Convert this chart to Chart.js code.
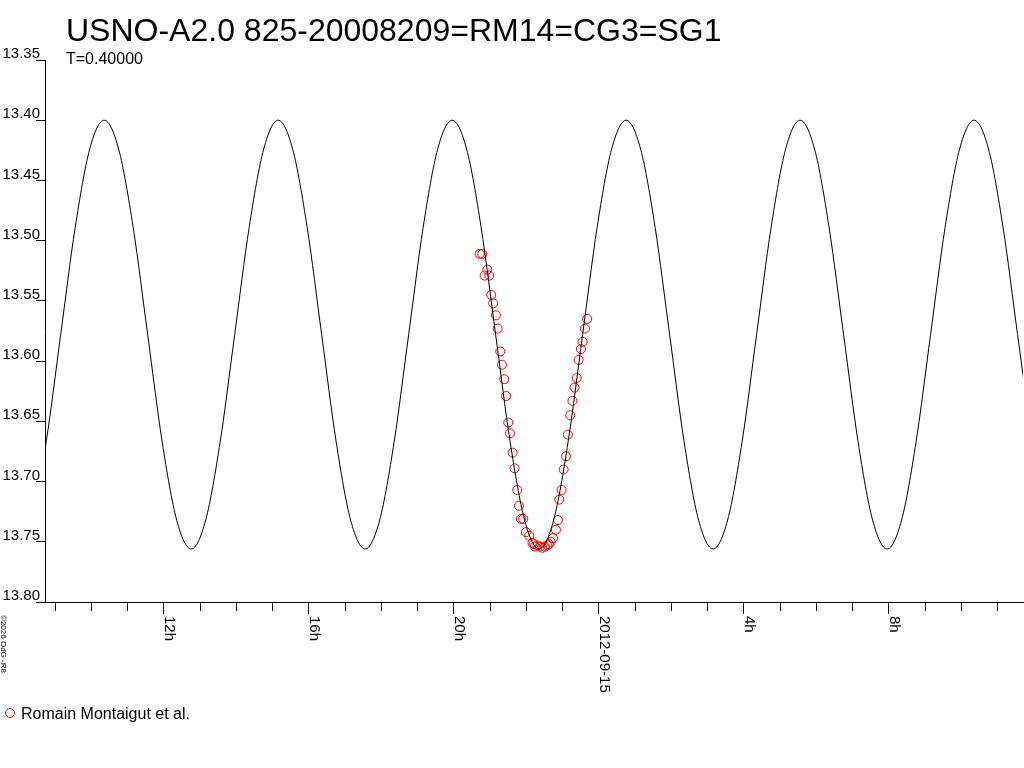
<!DOCTYPE html>
<html>
<head>
<meta charset="utf-8">
<title>USNO-A2.0 825-20008209 light curve</title>
<script src="https://cdn.jsdelivr.net/npm/chart.js@4.4.1/dist/chart.umd.min.js"></script>
<style>
  html, body { margin: 0; padding: 0; background: #fff; }
  canvas { display: block; }
</style>
</head>
<body>
<canvas id="lightCurve" width="1024" height="768"></canvas>
<script>
// hours counted from 2012-09-14 00:00
const titleText = 'USNO-A2.0 825-20008209=RM14=CG3=SG1';
const subtitleText = 'T=0.40000';
const legendText = 'Romain Montaigut et al.';
const copyrightText = '\u00a92026 OdG -R8';

const xTickHours = [12, 16, 20, 24, 28, 32];
const xTickLabels = ['12h', '16h', '20h', '2012-09-15', '4h', '8h'];

// fitted curve
const curveHours = [
  8.35, 8.75, 9.15, 9.55, 9.95, 10.35, 10.75, 11.15, 11.55, 11.95, 12.35, 12.75,
  13.15, 13.55, 13.95, 14.35, 14.75, 15.15, 15.55, 15.95, 16.35, 16.75, 17.15, 17.55,
  17.95, 18.35, 18.75, 19.15, 19.55, 19.95, 20.35, 20.75, 21.15, 21.55, 21.95, 22.35,
  22.75, 23.15, 23.55, 23.95, 24.35, 24.75, 25.15, 25.55, 25.95, 26.35, 26.75, 27.15,
  27.55, 27.95, 28.35, 28.75, 29.15, 29.55, 29.95, 30.35, 30.75, 31.15, 31.55, 31.95,
  32.35, 32.75, 33.15, 33.55, 33.95, 34.35, 34.75, 35.15, 35.55, 35.95
];
const curveMag = [
  13.732, 13.667, 13.578, 13.489, 13.424, 13.400, 13.424, 13.489, 13.578, 13.667, 13.732, 13.756,
  13.732, 13.667, 13.578, 13.489, 13.424, 13.400, 13.424, 13.489, 13.578, 13.667, 13.732, 13.756,
  13.732, 13.667, 13.578, 13.489, 13.424, 13.400, 13.424, 13.489, 13.578, 13.667, 13.732, 13.756,
  13.732, 13.667, 13.578, 13.489, 13.424, 13.400, 13.424, 13.489, 13.578, 13.667, 13.732, 13.756,
  13.732, 13.667, 13.578, 13.489, 13.424, 13.400, 13.424, 13.489, 13.578, 13.667, 13.732, 13.756,
  13.732, 13.667, 13.578, 13.489, 13.424, 13.400, 13.424, 13.489, 13.578, 13.667
];

// observations (Romain Montaigut et al.)
const obsHours = [
  20.709, 20.781, 20.919, 20.847, 20.974, 21.029, 21.084, 21.159, 21.206, 21.277,
  21.324, 21.388, 21.443, 21.498, 21.545, 21.619, 21.674, 21.746, 21.793, 21.848,
  21.912, 21.986, 22.077, 22.166, 22.200, 22.234, 22.303, 22.372, 22.441, 22.510,
  22.579, 22.620, 22.668, 22.731, 22.814, 22.869, 22.905, 22.971, 23.026, 23.090,
  23.145, 23.208, 23.269, 23.330, 23.385, 23.440, 23.503, 23.550, 23.614, 23.677
];
const obsMag = [
  13.511, 13.511, 13.524, 13.529, 13.529, 13.545, 13.552, 13.562, 13.573, 13.592,
  13.603, 13.615, 13.629, 13.651, 13.660, 13.676, 13.689, 13.707, 13.720, 13.731,
  13.731, 13.742, 13.745, 13.751, 13.752, 13.754, 13.753, 13.754, 13.755, 13.754,
  13.753, 13.752, 13.750, 13.747, 13.740, 13.732, 13.715, 13.707, 13.690, 13.679,
  13.661, 13.645, 13.633, 13.622, 13.614, 13.599, 13.590, 13.584, 13.573, 13.565
];

const FONT = "'Liberation Sans', Arial, sans-serif";

const curvePoints = curveHours.map((h, i) => ({ x: h, y: curveMag[i] }));
const obsPoints = obsHours.map((h, i) => ({ x: h, y: obsMag[i] }));

// same pixel snapping as Chart.js uses for 1px lines
const snap = (p) => Math.round(p - 0.5) + 0.5;

// title, rotated time labels, legend and the small credit line
const overlay = {
  id: 'overlay',
  afterDraw(chart) {
    const ctx = chart.ctx;
    const xs = chart.scales.x;
    const base = chart.chartArea.bottom;
    ctx.save();
    ctx.fillStyle = '#000';
    ctx.strokeStyle = '#000';
    ctx.lineWidth = 1;
    ctx.textBaseline = 'alphabetic';
    ctx.textAlign = 'left';

    ctx.font = '32px ' + FONT;
    ctx.fillText(titleText, 66, 41);
    ctx.font = '16px ' + FONT;
    ctx.fillText(subtitleText, 66, 64);

    // x axis line runs a little past the y axis and out to the canvas edge
    ctx.beginPath();
    ctx.moveTo(36, snap(base));
    ctx.lineTo(chart.width, snap(base));
    ctx.stroke();

    xTickHours.forEach((h, i) => {
      const px = snap(xs.getPixelForValue(h));
      ctx.beginPath();
      ctx.moveTo(px, base);
      ctx.lineTo(px, base + 12);
      ctx.stroke();
      ctx.save();
      ctx.translate(px + 1, base + 14);
      ctx.rotate(Math.PI / 2);
      ctx.font = '15px ' + FONT;
      ctx.fillText(xTickLabels[i], 0, 0);
      ctx.restore();
    });

    ctx.save();
    ctx.translate(1, 615);
    ctx.rotate(Math.PI / 2);
    ctx.font = '8px ' + FONT;
    ctx.fillText(copyrightText, 0, 0);
    ctx.restore();

    ctx.strokeStyle = '#ff0000';
    ctx.beginPath();
    ctx.arc(10, 713, 4.5, 0, Math.PI * 2);
    ctx.stroke();
    ctx.font = '16px ' + FONT;
    ctx.fillText(legendText, 21, 719);
    ctx.restore();
  }
};

new Chart(document.getElementById('lightCurve').getContext('2d'), {
  type: 'scatter',
  data: {
    datasets: [
      {
        label: 'fit',
        data: curvePoints,
        showLine: true,
        borderColor: '#000',
        borderWidth: 1,
        pointRadius: 0,
        cubicInterpolationMode: 'monotone',
        fill: false
      },
      {
        label: legendText,
        data: obsPoints,
        showLine: false,
        pointStyle: 'circle',
        pointRadius: 4.5,
        pointBorderWidth: 1,
        pointBorderColor: '#ff0000',
        pointBackgroundColor: 'rgba(0,0,0,0)'
      }
    ]
  },
  options: {
    responsive: false,
    animation: false,
    devicePixelRatio: 1,
    layout: { autoPadding: false, padding: { top: 60, right: 1, left: 0, bottom: 0 } },
    plugins: {
      legend: { display: false },
      title: { display: false },
      tooltip: { enabled: false }
    },
    scales: {
      x: {
        type: 'linear',
        min: 8.717,
        max: 35.70,
        afterFit: (scale) => {
          scale.height = 166;
          scale.paddingLeft = 0;
          scale.paddingRight = 0;
        },
        grid: { drawOnChartArea: false, drawTicks: true, tickLength: 9, color: '#000', lineWidth: 1 },
        border: { display: true, color: '#000', width: 1 },
        ticks: {
          stepSize: 1,
          includeBounds: false,
          autoSkip: false,
          maxRotation: 0,
          callback: () => ''
        }
      },
      y: {
        type: 'linear',
        reverse: true,
        min: 13.35,
        max: 13.80,
        afterFit: (scale) => {
          scale.width = 45;
          scale.paddingTop = 0;
          scale.paddingBottom = 0;
        },
        grid: { drawOnChartArea: false, drawTicks: true, tickLength: 9, color: '#000', lineWidth: 1 },
        border: { display: true, color: '#000', width: 1 },
        ticks: {
          stepSize: 0.05,
          padding: -4,
          labelOffset: -6,
          color: '#000',
          font: { family: FONT, size: 15 },
          callback: (v) => v.toFixed(2)
        }
      }
    }
  },
  plugins: [overlay]
});
</script>
</body>
</html>
